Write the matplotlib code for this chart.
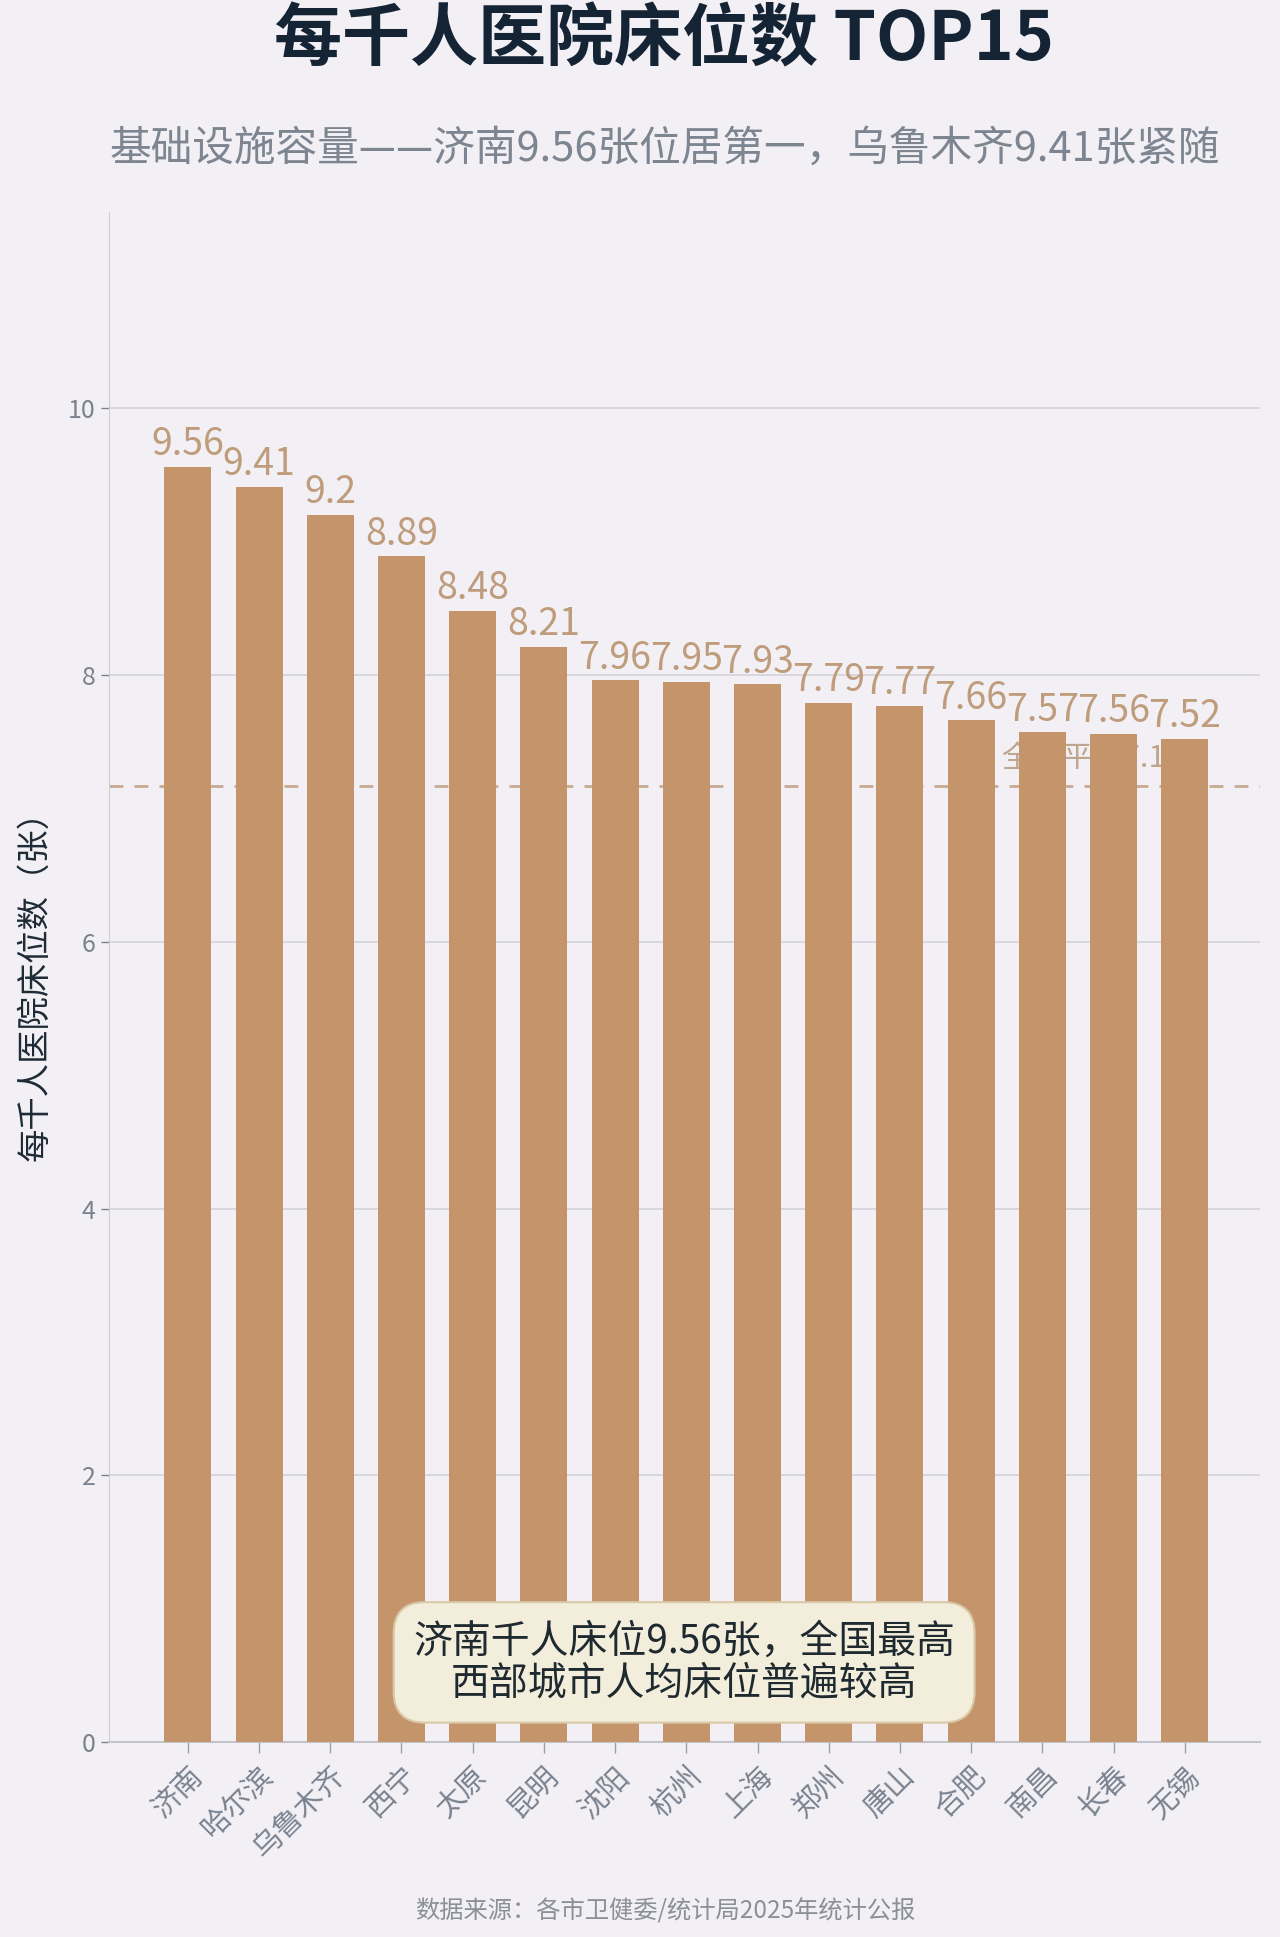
import matplotlib
matplotlib.use("Agg")
import matplotlib.pyplot as plt

plt.rcParams['font.family'] = ['Noto Sans CJK SC', 'DejaVu Sans']

# data
cities = ["济南", "哈尔滨", "乌鲁木齐", "西宁", "太原", "昆明", "沈阳", "杭州",
          "上海", "郑州", "唐山", "合肥", "南昌", "长春", "无锡"]
beds = [9.56, 9.41, 9.2, 8.89, 8.48, 8.21, 7.96, 7.95, 7.93, 7.79, 7.77, 7.66, 7.57, 7.56, 7.52]
national_avg = 7.17
yticks = [0, 2, 4, 6, 8, 10]

bg = "#f2f0f5"
bar_color = "#c4956a"
label_color = "#bf9c7b"
gray = "#7a8290"

fig = plt.figure(figsize=(12.8, 19.37), dpi=100, facecolor=bg)
ax = fig.add_axes([0.085, 0.1007, 0.899, 0.7898], facecolor=bg)

x = list(range(len(cities)))
ax.bar(x, beds, width=0.66, color=bar_color, zorder=3)

for xi, v in zip(x, beds):
    ax.annotate(f"{v:g}", (xi, v), xytext=(0, 2), textcoords="offset points",
                ha="center", va="bottom", fontsize=27, color=label_color, zorder=4)

# national average line, label sits behind the bars
ax.axhline(national_avg, color="#c8ab92", linestyle=(0, (5, 4)), linewidth=2, zorder=2)
ax.text(11.42, national_avg + 0.09, f"全国平均{national_avg}", fontsize=22,
        color="#bfa58e", ha="left", va="bottom", zorder=1)

ax.set_xlim(-1.11, 15.05)
ax.set_ylim(0, max(beds) * 1.2)
ax.set_yticks(yticks)
ax.set_xticks(x)
ax.set_xticklabels(cities, rotation=45, ha="right", rotation_mode="anchor",
                   fontsize=21, color=gray)
ax.tick_params(axis="y", labelsize=18, labelcolor=gray, color=gray, length=6, width=1)
ax.tick_params(axis="x", color="#9aa0aa", length=8, width=1, pad=6)
ax.grid(axis="y", color="#d6d5dc", linewidth=1.3, zorder=0)
ax.set_axisbelow(True)

for s in ["top", "right"]:
    ax.spines[s].set_visible(False)
ax.spines["left"].set_color("#cfced6")
ax.spines["bottom"].set_color("#c4c4cc")
ax.spines["bottom"].set_linewidth(1.5)

fig.text(0.027, 0.4955, "每千人医院床位数（张）", rotation=90, fontsize=24,
         color="#1e2a35", ha="center", va="center")

fig.text(0.519, 0.979, "每千人医院床位数 TOP15", fontsize=49, fontweight="heavy",
         color="#152434", ha="center", va="center")
fig.text(0.519, 0.923, "基础设施容量——济南9.56张位居第一，乌鲁木齐9.41张紧随",
         fontsize=30, color="#7d8591", ha="center", va="center")

ax.text(0.5, 0.052, "济南千人床位9.56张，全国最高\n西部城市人均床位普遍较高",
        transform=ax.transAxes, fontsize=28, color="#1f2a30", ha="center", va="center",
        linespacing=1.05, zorder=5,
        bbox=dict(boxstyle="round,pad=0.5,rounding_size=0.8", facecolor="#f3eedb",
                  edgecolor="#d9c9a8", linewidth=1.5))

fig.text(0.52, 0.013, "数据来源：各市卫健委/统计局2025年统计公报", fontsize=17.5,
         color="#8a8f98", ha="center", va="center")

fig.savefig("out.png", dpi=100, facecolor=bg)
